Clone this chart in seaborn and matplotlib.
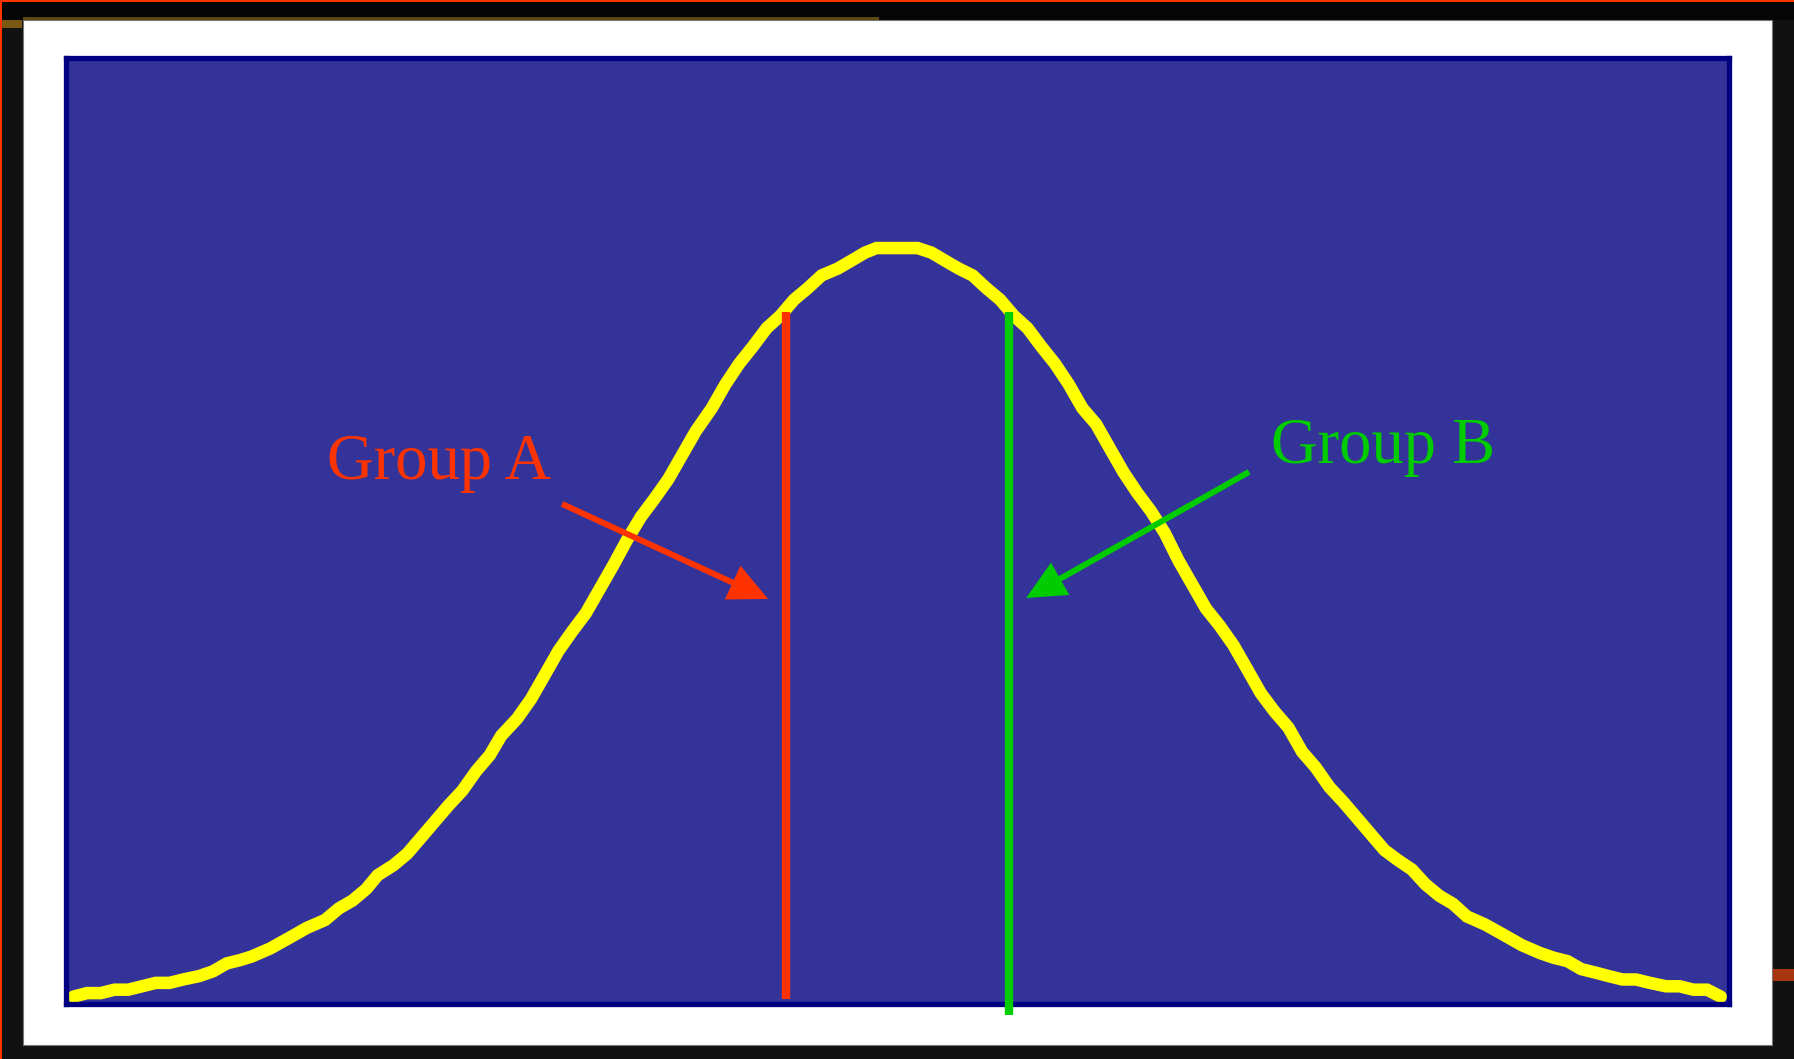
import matplotlib
matplotlib.use("Agg")
import matplotlib.pyplot as plt
from matplotlib.patches import Rectangle
import numpy as np
import pandas as pd
import seaborn as sns

# curve (left half up to the flat top, then right half)
CURVE_X_LEFT = [-3.60, -3.54, -3.48, -3.42, -3.36, -3.30, -3.24, -3.18, -3.12, -3.05,
                -2.99, -2.93, -2.87, -2.82, -2.74, -2.66, -2.58, -2.50, -2.44, -2.38,
                -2.32, -2.27, -2.20, -2.14, -2.08, -2.02, -1.96, -1.90, -1.84, -1.78,
                -1.73, -1.66, -1.60, -1.54, -1.48, -1.42, -1.36, -1.30, -1.24, -1.18,
                -1.12, -1.06, -1.00, -0.94, -0.88, -0.81, -0.75, -0.69, -0.63, -0.57,
                -0.51, -0.45, -0.39, -0.33, -0.26, -0.20, -0.14, -0.09, -0.02, 0.04,
                0.09]
CURVE_Y_LEFT = [0.0039, 0.0058, 0.0058, 0.0076, 0.0076, 0.0094, 0.0112, 0.0112, 0.0130, 0.0148,
                0.0173, 0.0215, 0.0233, 0.0252, 0.0294, 0.0348, 0.0403, 0.0445, 0.0506, 0.0548,
                0.0609, 0.0682, 0.0736, 0.0797, 0.0882, 0.0967, 0.1052, 0.1130, 0.1233, 0.1318,
                0.1421, 0.1512, 0.1615, 0.1742, 0.1870, 0.1973, 0.2070, 0.2197, 0.2324, 0.2458,
                0.2579, 0.2676, 0.2779, 0.2906, 0.3033, 0.3155, 0.3282, 0.3391, 0.3482, 0.3579,
                0.3645, 0.3730, 0.3791, 0.3858, 0.3894, 0.3936, 0.3979, 0.4003, 0.4003, 0.4003,
                0.4003]
CURVE_X_RIGHT = [0.15, 0.21, 0.27, 0.33, 0.39, 0.45, 0.51, 0.57, 0.63, 0.69,
                 0.75, 0.81, 0.87, 0.93, 0.99, 1.05, 1.11, 1.17, 1.23, 1.29,
                 1.35, 1.41, 1.47, 1.53, 1.59, 1.65, 1.71, 1.77, 1.83, 1.89,
                 1.95, 2.01, 2.07, 2.13, 2.19, 2.25, 2.31, 2.37, 2.43, 2.49,
                 2.57, 2.65, 2.73, 2.81, 2.87, 2.93, 2.99, 3.05, 3.11, 3.17,
                 3.23, 3.29, 3.36, 3.42, 3.48, 3.54, 3.60]
CURVE_Y_RIGHT = [0.3979, 0.3936, 0.3894, 0.3858, 0.3791, 0.3730, 0.3645, 0.3579, 0.3482, 0.3391,
                 0.3282, 0.3155, 0.3070, 0.2942, 0.2815, 0.2706, 0.2609, 0.2494, 0.2348, 0.2221,
                 0.2094, 0.2003, 0.1900, 0.1773, 0.1645, 0.1548, 0.1464, 0.1336, 0.1252, 0.1148,
                 0.1070, 0.0985, 0.0900, 0.0815, 0.0761, 0.0712, 0.0633, 0.0573, 0.0530, 0.0464,
                 0.0421, 0.0367, 0.0312, 0.0270, 0.0245, 0.0227, 0.0185, 0.0167, 0.0148, 0.0130,
                 0.0130, 0.0112, 0.0094, 0.0094, 0.0076, 0.0076, 0.0039]

# group markers
GROUP_LABELS = ["Group A", "Group B"]
GROUP_X = [-0.485, 0.49]
GROUP_TOP = [0.3665, 0.3665]
GROUP_BOTTOM = [0.0026, -0.0059]
ARROW_START = [(-1.464, 0.2648), (1.5385, 0.2818)]
ARROW_TIP = [(-0.5635, 0.2145), (0.564, 0.2150)]
LABEL_POS = [(-2.491, 0.2781), (1.6345, 0.2866)]
GROUP_COLORS = ["#ff3300", "#00cc00"]

curve = pd.DataFrame({"x": CURVE_X_LEFT + CURVE_X_RIGHT,
                      "y": CURVE_Y_LEFT + CURVE_Y_RIGHT})

sns.set_style("white")
plt.rcParams["font.family"] = ["Liberation Serif", "DejaVu Serif"]

fig = plt.figure(figsize=(17.94, 10.59), dpi=100, facecolor="#111111")


def _bg(x, y, w, h, color, edge="none", lw=0):
    fig.patches.append(Rectangle((x, y), w, h, transform=fig.transFigure,
                                 facecolor=color, edgecolor=edge, linewidth=lw, zorder=-5))


# dark frame, white panel and a few stray edge marks
_bg(0, 0.9811, 1, 0.0189, "#050505")
_bg(0.0128, 0.9815, 0.477, 0.002, "#5a4a10")
_bg(0, 0.9735, 0.0125, 0.0075, "#7a5a12")
_bg(0.9885, 0.0735, 0.0115, 0.0115, "#a83410")
_bg(0, 0.998, 1, 0.002, "#ff3300")
_bg(0, 0, 0.0011, 1, "#ff3300")
_bg(0.0128, 0.0132, 0.9749, 0.9679, "white", edge="#777777", lw=0.8)

ax = fig.add_axes([0.0368, 0.0519, 0.9270, 0.8938])
ax.set_zorder(5)
ax.set_facecolor("#333399")

sns.lineplot(data=curve, x="x", y="y", sort=False, estimator=None, ax=ax,
             color="#ffff00", linewidth=9, zorder=2)
bell = ax.lines[0]
bell.set_linestyle("-")
bell.set_solid_capstyle("round")
bell.set_dash_capstyle("round")
bell.set_solid_joinstyle("miter")
bell.set_clip_on(False)

for i, lab in enumerate(GROUP_LABELS):
    c = GROUP_COLORS[i]
    ax.plot([GROUP_X[i], GROUP_X[i]], [GROUP_BOTTOM[i], GROUP_TOP[i]], color=c,
            linewidth=6, solid_capstyle="butt", clip_on=False, zorder=3)
    ax.annotate("", xy=ARROW_TIP[i], xytext=ARROW_START[i],
                arrowprops=dict(arrowstyle="-|>,head_length=1.05,head_width=0.5",
                                color=c, linewidth=4.3, shrinkA=0, shrinkB=0,
                                joinstyle="miter", capstyle="butt",
                                mutation_scale=20), zorder=4)
    ax.text(LABEL_POS[i][0], LABEL_POS[i][1], lab, color=c, fontsize=46.5,
            ha="left", va="baseline", zorder=4)

ax.set_xlim(-3.632, 3.636)
ax.set_ylim(0, 0.5012)
ax.set_xticks([])
ax.set_yticks([])
ax.set_xlabel("")
ax.set_ylabel("")
for sp in ax.spines.values():
    sp.set_visible(True)
    sp.set_color("#000080")
    sp.set_linewidth(3.8)

fig.savefig("out.png", dpi=100, facecolor=fig.get_facecolor())
